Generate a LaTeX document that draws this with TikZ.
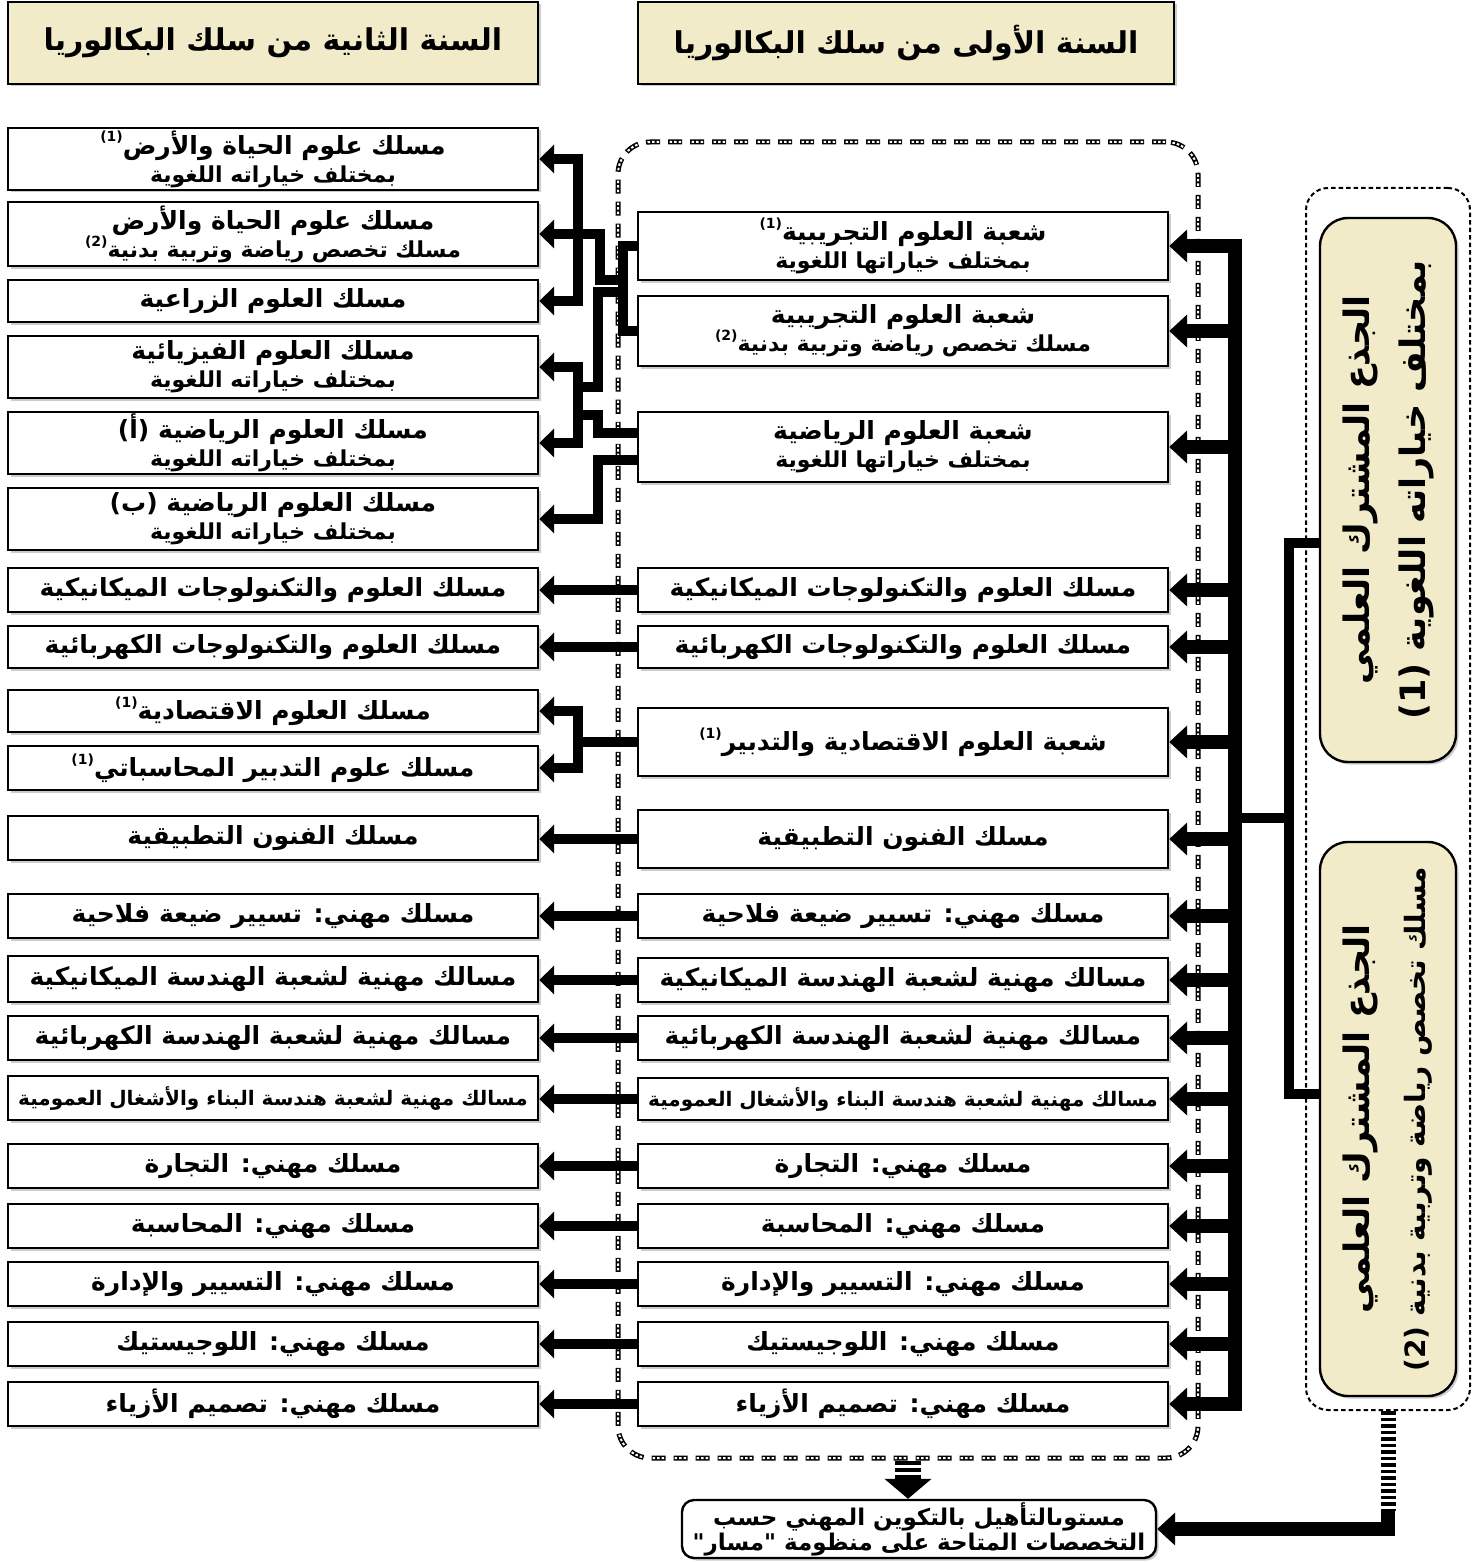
\documentclass[tikz,border=0pt]{standalone}
\usepackage{fontspec}
\usetikzlibrary{arrows.meta,shadows}
\TeXXeTstate=1
\newfontfamily\arfont[Script=Arabic]{DejaVu Sans}
\definecolor{papyrus}{HTML}{F2EBC9}
\newcommand{\ar}[1]{{\arfont\bfseries\beginR #1\endR}}
\newcommand{\sar}[1]{{\fontsize{22}{26}\selectfont\ar{#1}}}
\newcommand{\fn}[1]{\raisebox{0.5em}{\fontsize{14}{14}\selectfont\arfont\bfseries(#1)}}

\begin{document}
\begin{tikzpicture}[x=1pt,y=-1pt,font=\fontsize{25}{28}\selectfont]
\tikzstyle{box}=[draw=black,line width=2.4pt,fill=white,minimum width=530pt,inner sep=0pt,align=center,drop shadow={shadow xshift=2.5pt,shadow yshift=-2.5pt,fill=black!40}]
\tikzstyle{head}=[box,fill=papyrus,minimum height=82pt,font=\fontsize{30}{34}\selectfont]
\tikzstyle{stem}=[box,fill=papyrus,rounded corners=28pt,font=\fontsize{35}{56}\selectfont]
\tikzstyle{yframe}=[draw=black,line width=5pt,dash pattern=on 14pt off 8pt,rounded corners=32pt,inner sep=0pt,
  postaction={draw=white,line width=2pt,dash pattern=on 2.5pt off 2pt on 2.5pt off 2pt on 2.5pt off 10.5pt,dash phase=21pt}]
\tikzstyle{sframe}=[draw=black,line width=2pt,dash pattern=on 4.5pt off 3pt,rounded corners=22pt,inner sep=0pt]
\tikzstyle{link}=[line width=10pt]
\tikzstyle{arr}=[link,-{Triangle[length=15pt,width=28pt]}]
\tikzstyle{bigarr}=[line width=14pt,-{Triangle[length=18pt,width=32pt]}]
\useasboundingbox (0,0) rectangle (1478,1562);

% frames
\node[yframe,minimum width=580pt,minimum height=1316pt] (F1) at (908,800) {};
\node[sframe,minimum width=164pt,minimum height=1222pt] (R1) at (1388,799) {};

% headers
\node[head] (H2) at (273,43) {\ar{السنة الثانية من سلك البكالوريا}};
\node[head,minimum width=536pt] (H1) at (906,43) {\ar{السنة الأولى من سلك البكالوريا}};

% second year
\node[box,minimum height=62pt] (L1) at (273,159) {\ar{مسلك علوم الحياة والأرض\fn{1}}\\\sar{بمختلف خياراته اللغوية}};
\node[box,minimum height=64pt] (L2) at (273,234) {\ar{مسلك علوم الحياة والأرض}\\\sar{مسلك تخصص رياضة وتربية بدنية\fn{2}}};
\node[box,minimum height=42pt] (L3) at (273,301) {\ar{مسلك العلوم الزراعية}};
\node[box,minimum height=62pt] (L4) at (273,367) {\ar{مسلك العلوم الفيزيائية}\\\sar{بمختلف خياراته اللغوية}};
\node[box,minimum height=62pt] (L5) at (273,443) {\ar{مسلك العلوم الرياضية (أ)}\\\sar{بمختلف خياراته اللغوية}};
\node[box,minimum height=62pt] (L6) at (273,519) {\ar{مسلك العلوم الرياضية (ب)}\\\sar{بمختلف خياراته اللغوية}};
\node[box,minimum height=44pt] (L7) at (273,590) {\ar{مسلك العلوم والتكنولوجات الميكانيكية}};
\node[box,minimum height=42pt] (L8) at (273,647) {\ar{مسلك العلوم والتكنولوجات الكهربائية}};
\node[box,minimum height=42pt] (L9) at (273,711) {\ar{مسلك العلوم الاقتصادية\fn{1}}};
\node[box,minimum height=44pt] (L10) at (273,768) {\ar{مسلك علوم التدبير المحاسباتي\fn{1}}};
\node[box,minimum height=44pt] (L11) at (273,838) {\ar{مسلك الفنون التطبيقية}};
\node[box,minimum height=44pt] (L12) at (273,916) {\ar{مسلك مهني: تسيير ضيعة فلاحية}};
\node[box,minimum height=46pt] (L13) at (273,979) {\ar{مسالك مهنية لشعبة الهندسة الميكانيكية}};
\node[box,minimum height=44pt] (L14) at (273,1038) {\ar{مسالك مهنية لشعبة الهندسة الكهربائية}};
\node[box,minimum height=44pt,font=\fontsize{20}{24}\selectfont] (L15) at (273,1098) {\ar{مسالك مهنية لشعبة هندسة البناء والأشغال العمومية}};
\node[box,minimum height=44pt] (L16) at (273,1166) {\ar{مسلك مهني: التجارة}};
\node[box,minimum height=44pt] (L17) at (273,1226) {\ar{مسلك مهني: المحاسبة}};
\node[box,minimum height=44pt] (L18) at (273,1284) {\ar{مسلك مهني: التسيير والإدارة}};
\node[box,minimum height=44pt] (L19) at (273,1344) {\ar{مسلك مهني: اللوجيستيك}};
\node[box,minimum height=44pt] (L20) at (273,1404) {\ar{مسلك مهني: تصميم الأزياء}};

% first year
\node[box,minimum height=68pt] (a) at (903,246) {\ar{شعبة العلوم التجريبية\fn{1}}\\\sar{بمختلف خياراتها اللغوية}};
\node[box,minimum height=70pt] (b) at (903,331) {\ar{شعبة العلوم التجريبية}\\\sar{مسلك تخصص رياضة وتربية بدنية\fn{2}}};
\node[box,minimum height=70pt] (c) at (903,447) {\ar{شعبة العلوم الرياضية}\\\sar{بمختلف خياراتها اللغوية}};
\node[box,minimum height=44pt] (d) at (903,590) {\ar{مسلك العلوم والتكنولوجات الميكانيكية}};
\node[box,minimum height=42pt] (e) at (903,647) {\ar{مسلك العلوم والتكنولوجات الكهربائية}};
\node[box,minimum height=68pt] (f) at (903,742) {\ar{شعبة العلوم الاقتصادية والتدبير\fn{1}}};
\node[box,minimum height=58pt] (g) at (903,839) {\ar{مسلك الفنون التطبيقية}};
\node[box,minimum height=44pt] (h) at (903,916) {\ar{مسلك مهني: تسيير ضيعة فلاحية}};
\node[box,minimum height=44pt] (i) at (903,980) {\ar{مسالك مهنية لشعبة الهندسة الميكانيكية}};
\node[box,minimum height=44pt] (j) at (903,1038) {\ar{مسالك مهنية لشعبة الهندسة الكهربائية}};
\node[box,minimum height=42pt,font=\fontsize{20}{24}\selectfont] (k) at (903,1099) {\ar{مسالك مهنية لشعبة هندسة البناء والأشغال العمومية}};
\node[box,minimum height=44pt] (l) at (903,1166) {\ar{مسلك مهني: التجارة}};
\node[box,minimum height=44pt] (m) at (903,1226) {\ar{مسلك مهني: المحاسبة}};
\node[box,minimum height=44pt] (n) at (903,1284) {\ar{مسلك مهني: التسيير والإدارة}};
\node[box,minimum height=44pt] (o) at (903,1344) {\ar{مسلك مهني: اللوجيستيك}};
\node[box,minimum height=44pt] (p) at (903,1404) {\ar{مسلك مهني: تصميم الأزياء}};

% common core
\node[stem,minimum width=544pt,minimum height=136pt,rotate=90] (S1) at (1388,490) {\ar{الجذع المشترك العلمي}\\\ar{بمختلف خياراته اللغوية (1)}};
\node[stem,minimum width=554pt,minimum height=136pt,rotate=90] (S2) at (1388,1119) {\ar{الجذع المشترك العلمي}\\{\fontsize{28}{30}\selectfont\ar{مسلك تخصص رياضة وتربية بدنية (2)}}};

% vocational level
\node[box,rounded corners=12pt,minimum width=474pt,minimum height=58pt,font=\fontsize{23}{25}\selectfont] (fin) at (919,1529) {\ar{مستوىالتأهيل بالتكوين المهني حسب}\\\ar{التخصصات المتاحة على منظومة "مسار"}};

% trunk
\coordinate (T) at (1235,818);
\draw[bigarr] (T) |- (a.east);
\draw[bigarr] (T) |- (p.east);
\foreach \r in {b,c,d,e,f,g,h,i,j,k,l,m,n,o}
  \draw[bigarr] (\r.east -| T) -- (\r.east);
\draw[link] ([yshift=-53pt]S1.north) -- ++(-30,0) |- ([yshift=25pt]S2.north);
\draw[link] (1290,818) -- (T);

% first year -> second year
\draw[link] (a.west) -- ++(-14,0) |- (b.west);
\draw[arr] (624,280) -| (600,234) -- (L2.east);
\draw[arr] (578,234) |- (L1.east);
\draw[arr] (578,234) |- (L3.east);
\draw[link] (624,292) -| (598,387) -- (578,387);
\draw[arr] (578,405) |- (L4.east);
\draw[arr] (578,405) |- (L5.east);
\draw[link] ([yshift=14pt]c.west) -| (598,415) -- (578,415);
\draw[arr] ([yshift=-13pt]c.west) -| (598,519) -- (L6.east);
\draw[link] (f.west) -- (578,742);
\draw[arr] (578,742) |- (L9.east);
\draw[arr] (578,742) |- (L10.east);
\foreach \r/\l in {d/L7,e/L8,g/L11,h/L12,i/L13,j/L14,k/L15,l/L16,m/L17,n/L18,o/L19,p/L20}
  \draw[arr] (\r.west) -- (\r.west -| \l.east);

% towards vocational level
\draw[line width=26pt,dash pattern=on 4pt off 3pt] (F1.south) -- ++(0,18);
\draw[line width=26pt,-{Triangle[length=20pt,width=46pt]}] ([yshift=-18pt]F1.south) -- (F1.south |- fin.north);
\draw[line width=15pt,dash pattern=on 3.5pt off 3pt] (R1.south) -- ++(0,100);
\draw[bigarr] ([yshift=-100pt]R1.south) |- (fin.east);
\end{tikzpicture}
\end{document}
